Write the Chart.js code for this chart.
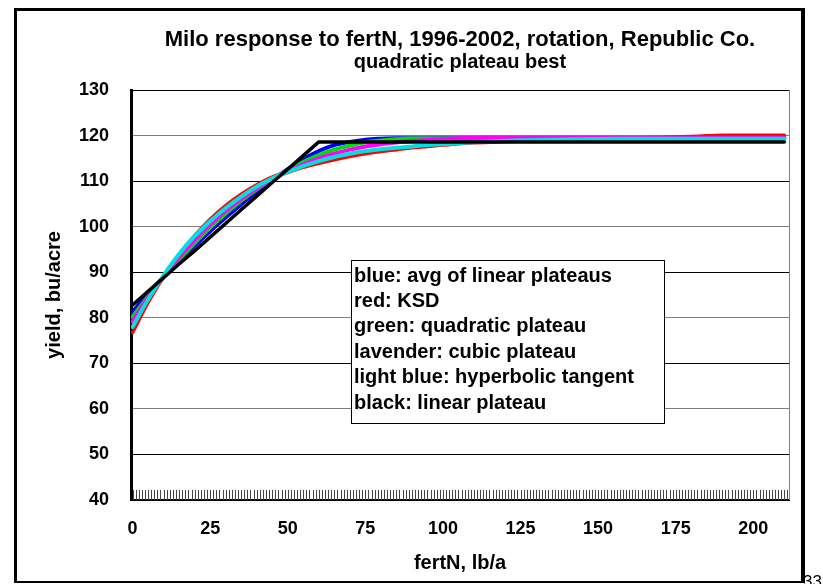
<!DOCTYPE html>
<html>
<head>
<meta charset="utf-8">
<script src="https://cdn.jsdelivr.net/npm/chart.js@4"></script>
<style>
  html, body { margin: 0; padding: 0; background: #fff; overflow: hidden; }
  #wrap { position: relative; width: 823px; height: 584px; overflow: hidden; }
  #chart { position: absolute; left: 0; top: 0; }
  #frame { position: absolute; left: 14px; top: 8px; width: 791px; height: 575px; box-sizing: border-box;
           border: 3px solid #000; border-right-width: 4px; border-bottom-width: 2px; pointer-events: none; }
  #page { position: absolute; left: 803px; top: 572px; font: 17px Arial, "Liberation Sans", sans-serif; }
</style>
</head>
<body>
<div id="wrap">
  <canvas id="chart" width="823" height="584"></canvas>
  <div id="frame"></div>
  <div id="page">33</div>
</div>
<script>
// N rate, lb/a
var fertN = [0, 5, 10, 15, 20, 25, 30, 35, 40, 45, 50, 55, 60, 65, 70, 75, 80, 85, 90, 95, 100,
  105, 110, 115, 120, 125, 130, 135, 140, 145, 150, 155, 160, 165, 170, 175, 180, 185, 190, 195, 200, 205, 210];

// yield, bu/acre
var avgLinear = [81.3, 85.3, 89.0, 92.5, 95.8, 99.0, 102.0, 104.9, 107.6, 110.2, 112.6, 114.8, 116.6, 117.9, 118.6,
  119.1, 119.3, 119.4, 119.4, 119.4, 119.4, 119.4, 119.4, 119.4, 119.4, 119.4, 119.4, 119.4, 119.4, 119.4,
  119.4, 119.4, 119.4, 119.4, 119.4, 119.4, 119.4, 119.4, 119.4, 119.4, 119.4, 119.4, 119.4];
var ksd = [76.8, 83.3, 89.0, 93.9, 98.0, 101.6, 104.6, 107.1, 109.2, 110.9, 111.9, 113.0, 113.9, 114.7, 115.4,
  116.0, 116.5, 116.9, 117.3, 117.6, 117.9, 118.2, 118.4, 118.55, 118.7, 118.8, 118.9, 119.0, 119.1, 119.2,
  119.3, 119.4, 119.45, 119.5, 119.6, 119.7, 119.8, 119.95, 120.05, 120.05, 120.05, 120.05, 120.05];
var quadPlateau = [80.2, 84.7, 88.9, 92.8, 96.4, 99.8, 102.9, 105.7, 108.2, 110.4, 112.4, 114.2, 115.7, 116.9, 117.8,
  118.5, 118.9, 119.2, 119.35, 119.35, 119.35, 119.35, 119.35, 119.35, 119.35, 119.35, 119.35, 119.35, 119.35, 119.35,
  119.35, 119.35, 119.35, 119.35, 119.35, 119.35, 119.35, 119.35, 119.35, 119.35, 119.35, 119.35, 119.35];
var cubicPlateau = [79.2, 84.4, 89.1, 93.3, 97.1, 100.5, 103.5, 106.1, 108.4, 110.4, 112.2, 113.7, 115.0, 116.0, 116.9,
  117.6, 118.1, 118.5, 118.8, 119.05, 119.25, 119.4, 119.5, 119.5, 119.5, 119.5, 119.5, 119.5, 119.5, 119.5,
  119.5, 119.5, 119.5, 119.5, 119.5, 119.5, 119.5, 119.5, 119.5, 119.5, 119.5, 119.5, 119.5];
var hypTangent = [78.0, 84.0, 89.3, 94.0, 97.9, 101.2, 104.1, 106.6, 108.8, 110.6, 112.0, 113.3, 114.4, 115.3, 116.0,
  116.6, 117.0, 117.3, 117.6, 117.9, 118.1, 118.35, 118.55, 118.7, 118.85, 118.95, 119.05, 119.1, 119.15, 119.2,
  119.25, 119.3, 119.3, 119.3, 119.3, 119.3, 119.3, 119.3, 119.3, 119.3, 119.3, 119.3, 119.3];
var linPlateau = [82.8, 85.8, 88.8, 91.8, 94.7, 97.7, 100.7, 103.7, 106.7, 109.7, 112.6, 115.6, 118.6, 118.6, 118.6,
  118.6, 118.6, 118.6, 118.6, 118.6, 118.6, 118.6, 118.6, 118.6, 118.6, 118.6, 118.6, 118.6, 118.6, 118.6,
  118.6, 118.6, 118.6, 118.6, 118.6, 118.6, 118.6, 118.6, 118.6, 118.6, 118.6, 118.6, 118.6];

var xTicks = [0, 25, 50, 75, 100, 125, 150, 175, 200];
var yTicks = [40, 50, 60, 70, 80, 90, 100, 110, 120, 130];

var noteLines = [
  'blue: avg of linear plateaus',
  'red: KSD',
  'green: quadratic plateau',
  'lavender: cubic plateau',
  'light blue: hyperbolic tangent',
  'black: linear plateau'
];

function pts(ys) {
  return fertN.map(function (x, i) { return { x: x, y: ys[i] }; });
}

function series(label, ys, color, width, order, smooth) {
  return {
    label: label,
    data: pts(ys),
    borderColor: color,
    backgroundColor: color,
    borderWidth: width,
    pointRadius: 0,
    order: order,
    cubicInterpolationMode: smooth ? 'monotone' : 'default',
    borderJoinStyle: 'round',
    borderCapStyle: 'round'
  };
}

// little hatch marks on the x axis, right border, and the text box
var extras = {
  id: 'extras',
  beforeDatasetsDraw: function (chart) {
    var ctx = chart.ctx, a = chart.chartArea, x = chart.scales.x;
    ctx.save();
    ctx.strokeStyle = '#808080';
    ctx.lineWidth = 1;
    ctx.beginPath();
    ctx.moveTo(a.right + 0.5, a.top);
    ctx.lineTo(a.right + 0.5, a.bottom);
    ctx.stroke();
    ctx.strokeStyle = '#444';
    ctx.beginPath();
    for (var v = 0; v <= 211; v++) {
      var px = Math.round(x.getPixelForValue(v)) + 0.5;
      ctx.moveTo(px, a.bottom);
      ctx.lineTo(px, a.bottom - 10);
    }
    ctx.stroke();
    ctx.restore();
  },
  afterDatasetsDraw: function (chart) {
    var ctx = chart.ctx;
    var bx = 351, by = 260, bw = 313, bh = 163;
    ctx.save();
    ctx.fillStyle = '#fff';
    ctx.fillRect(bx, by, bw, bh);
    ctx.strokeStyle = '#000';
    ctx.lineWidth = 1;
    ctx.strokeRect(bx + 0.5, by + 0.5, bw, bh);
    ctx.fillStyle = '#000';
    ctx.font = 'bold 20px Arial, "Liberation Sans", sans-serif';
    ctx.textBaseline = 'middle';
    noteLines.forEach(function (t, i) {
      ctx.fillText(t, bx + 3, by + 16 + i * 25.4);
    });
    ctx.restore();
  }
};

Chart.defaults.font.family = 'Arial, "Liberation Sans", sans-serif';
Chart.defaults.color = '#000';

var chart = new Chart(document.getElementById('chart'), {
  type: 'line',
  data: {
    datasets: [
      series('KSD', ksd, '#ff0000', 3.5, 6, true),
      series('avg of linear plateaus', avgLinear, '#0000ff', 4, 5, true),
      series('quadratic plateau', quadPlateau, '#00dd00', 4, 4, true),
      series('cubic plateau', cubicPlateau, '#ff00ff', 4, 3, true),
      series('hyperbolic tangent', hypTangent, '#00e0e0', 4, 2, true),
      series('linear plateau', linPlateau, '#000000', 3.5, 1, false)
    ]
  },
  options: {
    responsive: false,
    animation: false,
    layout: { padding: { left: 20, right: 34, top: 12, bottom: 0 } },
    scales: {
      x: {
        type: 'linear',
        min: -0.5,
        max: 211.5,
        afterBuildTicks: function (s) { s.ticks = xTicks.map(function (v) { return { value: v }; }); },
        afterFit: function (s) { s.height = 84; },
        ticks: { font: { size: 18, weight: 'bold' }, padding: 18, maxRotation: 0, autoSkip: false },
        grid: { drawOnChartArea: false, drawTicks: false },
        border: { color: '#000', width: 2 },
        title: { display: true, text: 'fertN, lb/a', font: { size: 20, weight: 'bold', lineHeight: 1 }, padding: { top: 0, bottom: 11 } }
      },
      y: {
        min: 40,
        max: 130,
        afterBuildTicks: function (s) { s.ticks = yTicks.map(function (v) { return { value: v }; }); },
        afterFit: function (s) { s.width = 111; },
        ticks: { font: { size: 18, weight: 'bold' }, padding: 22 },
        grid: {
          drawTicks: false,
          lineWidth: 1,
          color: function (c) { return c.tick && c.tick.value % 20 === 0 ? '#808080' : '#000'; }
        },
        border: { color: '#000', width: 3 },
        title: { display: true, text: 'yield, bu/acre', font: { size: 20, weight: 'bold', lineHeight: 1 }, padding: { top: 24, bottom: 0 } }
      }
    },
    plugins: {
      legend: { display: false },
      tooltip: { enabled: false },
      title: {
        display: true,
        fullSize: false,
        text: 'Milo response to fertN, 1996-2002, rotation, Republic Co.',
        font: { size: 22, weight: 'bold', lineHeight: 1 },
        padding: { top: 17, bottom: 0 }
      },
      subtitle: {
        display: true,
        fullSize: false,
        text: 'quadratic plateau best',
        font: { size: 20, weight: 'bold', lineHeight: 1 },
        padding: { top: 1, bottom: 18 }
      }
    }
  },
  plugins: [extras]
});
</script>
</body>
</html>
